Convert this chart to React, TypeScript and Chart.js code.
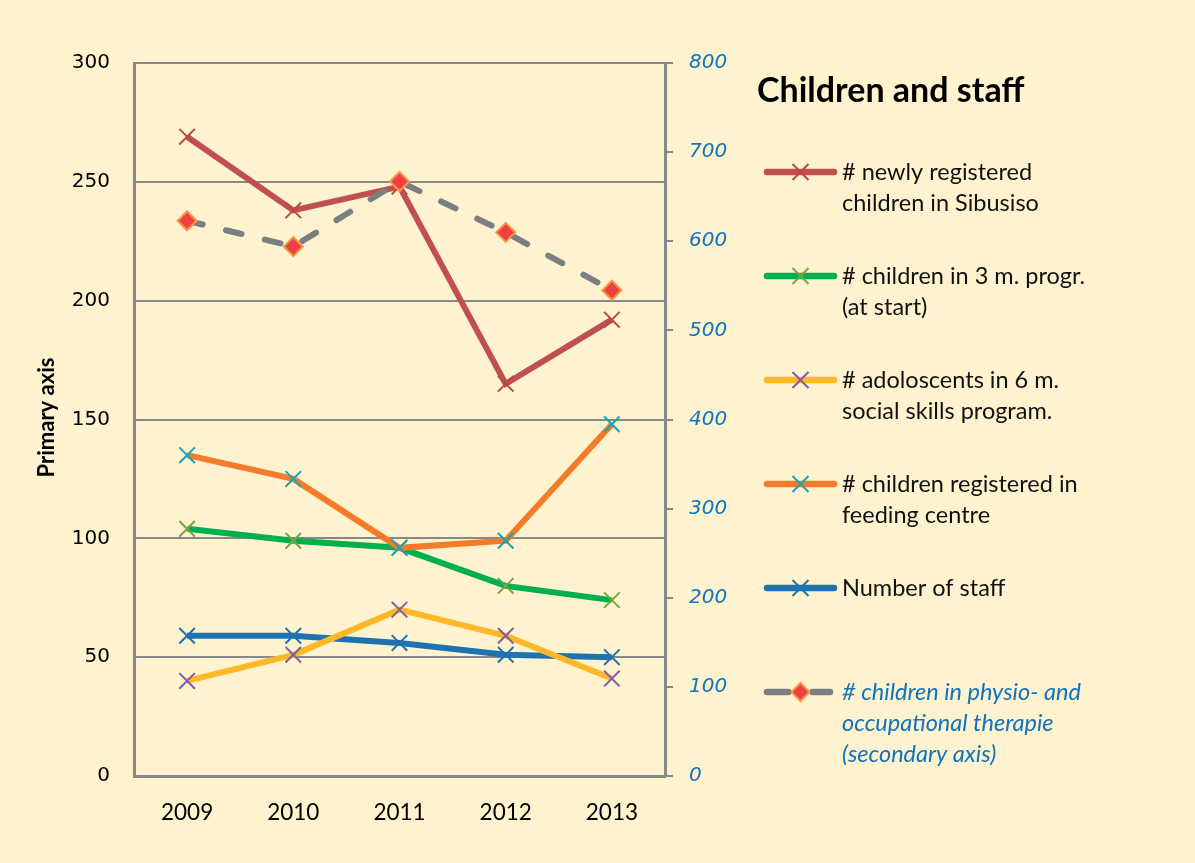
import React, { useEffect, useRef } from 'react';
import { Chart, registerables } from 'chart.js';

Chart.register(...registerables);

// ---- data ----
const years = ['2009', '2010', '2011', '2012', '2013'];
const newlyRegistered = [269, 238, 248, 165, 192];
const threeMonthProgram = [104, 99, 96, 80, 74];
const adolescents = [40, 51, 70, 59, 41];
const feedingCentre = [135, 125, 96, 99, 148];
const staffCount = [59, 59, 56, 51, 50];
const physioTherapy = [623, 594, 667, 610, 545];

const primaryMax = 300;
const primaryStep = 50;
const secondaryMax = 800;
const secondaryStep = 100;

const chartTitle = 'Children and staff';
const primaryAxisTitle = 'Primary axis';
const legendLabels: string[][] = [
  ['# newly registered', 'children in Sibusiso'],
  ['# children in 3 m. progr.', '(at start)'],
  ['# adoloscents in 6 m.', 'social skills program.'],
  ['# children registered in', 'feeding centre'],
  ['Number of staff'],
  ['# children in physio- and', 'occupational therapie', '(secondary axis)'],
];

const BG = '#FFF2CE';
const GRID = '#888888';
const BLUE_TEXT = '#0F73BE';

const legendPlugin = {
  id: 'customDecor',
  beforeDraw(chart: any) {
    const ctx = chart.ctx;
    ctx.save();
    ctx.fillStyle = BG;
    ctx.fillRect(0, 0, chart.width, chart.height);
    ctx.restore();
  },
  afterDraw(chart: any) {
    const ctx = chart.ctx;
    const area = chart.chartArea;
    ctx.save();
    // primary axis title
    ctx.translate(47, (area.top + area.bottom) / 2 - 2);
    ctx.rotate(-Math.PI / 2);
    ctx.font = 'bold 22px Lato';
    ctx.fillStyle = '#000';
    ctx.textAlign = 'center';
    ctx.textBaseline = 'middle';
    ctx.fillText(primaryAxisTitle, 0, 0);
    ctx.restore();

    ctx.save();
    // legend title
    const lx = area.right + 92;
    ctx.font = 'bold 34px Lato';
    ctx.fillStyle = '#000';
    ctx.textAlign = 'left';
    ctx.textBaseline = 'middle';
    ctx.fillText(chartTitle, lx, 91);

    const order = [0, 1, 2, 3, 4, 5];
    order.forEach((dsIndex, i) => {
      const ds = chart.data.datasets[dsIndex];
      const y = 172 + i * 104;
      const x0 = lx + 10;
      const x1 = lx + 77;
      const cx = (x0 + x1) / 2;
      ctx.lineCap = 'round';
      ctx.strokeStyle = ds.borderColor;
      ctx.lineWidth = 6.5;
      if (ds.borderDash) {
        ctx.beginPath();
        ctx.moveTo(x0, y);
        ctx.lineTo(cx - 12, y);
        ctx.moveTo(cx + 12, y);
        ctx.lineTo(x1 - 4, y);
        ctx.stroke();
        // diamond
        const r = 9;
        ctx.beginPath();
        ctx.moveTo(cx, y - r);
        ctx.lineTo(cx + r, y);
        ctx.lineTo(cx, y + r);
        ctx.lineTo(cx - r, y);
        ctx.closePath();
        ctx.fillStyle = ds.pointBackgroundColor;
        ctx.fill();
        ctx.lineWidth = 2;
        ctx.strokeStyle = ds.pointBorderColor;
        ctx.stroke();
      } else {
        ctx.beginPath();
        ctx.moveTo(x0, y);
        ctx.lineTo(x1, y);
        ctx.stroke();
        const h = 8;
        ctx.lineCap = 'butt';
        ctx.lineWidth = 2;
        ctx.strokeStyle = ds.pointBorderColor;
        ctx.beginPath();
        ctx.moveTo(cx - h, y - h);
        ctx.lineTo(cx + h, y + h);
        ctx.moveTo(cx + h, y - h);
        ctx.lineTo(cx - h, y + h);
        ctx.stroke();
      }
      const lines = legendLabels[i];
      const italic = dsIndex === 5;
      ctx.font = (italic ? 'italic ' : '') + '23.5px Lato';
      ctx.fillStyle = italic ? BLUE_TEXT : '#111';
      ctx.textAlign = 'left';
      ctx.textBaseline = 'middle';
      lines.forEach((t, j) => {
        ctx.fillText(t, lx + 85, y + j * 31);
      });
    });
    ctx.restore();
  },
};

function crossDataset(label: string, data: number[], line: string, marker: string, order: number) {
  return {
    label,
    data,
    yAxisID: 'y',
    borderColor: line,
    backgroundColor: line,
    borderWidth: 6,
    pointStyle: 'crossRot',
    pointRadius: 11,
    pointHoverRadius: 11,
    pointBorderColor: marker,
    pointBorderWidth: 2,
    tension: 0,
    order,
  };
}

export default function App() {
  const canvasRef = useRef<HTMLCanvasElement | null>(null);

  useEffect(() => {
    document.body.style.margin = '0';
    document.body.style.background = BG;
    const canvas = canvasRef.current;
    if (!canvas) return;
    const chart = new Chart(canvas, {
      type: 'line',
      data: {
        labels: years,
        datasets: [
          crossDataset(legendLabels[0].join(' '), newlyRegistered, '#C0504D', '#BB4845', 2),
          crossDataset(legendLabels[1].join(' '), threeMonthProgram, '#00B050', '#77A440', 4),
          crossDataset(legendLabels[2].join(' '), adolescents, '#FDB827', '#7D5DA6', 5),
          crossDataset(legendLabels[3].join(' '), feedingCentre, '#F47B2A', '#19A3B5', 3),
          crossDataset(legendLabels[4].join(' '), staffCount, '#1C73B0', '#1C73B0', 6),
          {
            label: legendLabels[5].join(' '),
            data: physioTherapy,
            yAxisID: 'y2',
            borderColor: '#7A7F84',
            backgroundColor: '#7A7F84',
            borderWidth: 6,
            borderDash: [16, 24],
            borderCapStyle: 'round',
            pointStyle: 'rectRot',
            pointRadius: 9.5,
            pointHoverRadius: 9.5,
            pointBackgroundColor: '#EE4040',
            pointBorderColor: '#F79646',
            pointBorderWidth: 2,
            tension: 0,
            order: 1,
          } as any,
        ],
      },
      options: {
        animation: false,
        responsive: false,
        maintainAspectRatio: false,
        events: [],
        layout: { padding: { left: 0, top: 63, right: 450, bottom: 27 } },
        plugins: {
          legend: { display: false },
          title: { display: false },
          tooltip: { enabled: false },
        },
        scales: {
          x: {
            type: 'category',
            offset: true,
            grid: { display: false, drawTicks: false },
            border: { display: true, color: GRID, width: 3 },
            ticks: {
              color: '#000',
              font: { family: 'Lato', size: 22.5 },
              padding: 23,
            },
            afterFit: (s: any) => {
              s.height = 60;
            },
          },
          y: {
            position: 'left',
            min: 0,
            max: primaryMax,
            ticks: {
              stepSize: primaryStep,
              color: '#000',
              font: { family: 'DejaVu Sans', size: 20 },
              padding: 24,
            },
            grid: { color: GRID, lineWidth: 2, drawTicks: false },
            border: { display: true, color: GRID, width: 3 },
            afterFit: (s: any) => {
              s.width = 134;
            },
          },
          y2: {
            position: 'right',
            min: 0,
            max: secondaryMax,
            ticks: {
              stepSize: secondaryStep,
              color: BLUE_TEXT,
              font: { family: 'DejaVu Sans', size: 20, style: 'italic' },
              padding: 16,
            },
            grid: {
              drawOnChartArea: false,
              drawTicks: true,
              tickLength: 8,
              color: GRID,
              lineWidth: 2,
            },
            border: { display: true, color: GRID, width: 3 },
            afterFit: (s: any) => {
              s.width = 80;
            },
          },
        },
      } as any,
      plugins: [legendPlugin],
    });
    return () => {
      chart.destroy();
    };
  }, []);

  return (
    <div style={{ position: 'absolute', left: 0, top: 0, width: 1195, height: 863, background: BG }}>
      <canvas ref={canvasRef} width={1195} height={863} style={{ width: 1195, height: 863, display: 'block' }} />
    </div>
  );
}
